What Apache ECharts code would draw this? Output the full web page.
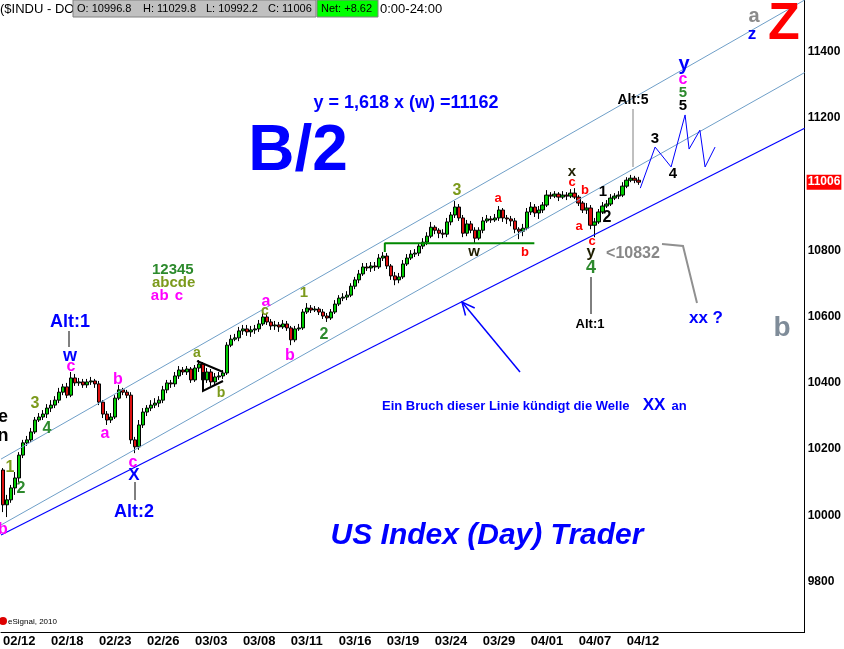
<!DOCTYPE html>
<html>
<head>
<meta charset="utf-8">
<title>$INDU - B/2</title>
<script src="https://cdn.jsdelivr.net/npm/echarts@6/dist/echarts.min.js"></script>
<style>
  html, body { margin: 0; padding: 0; background: #fff; }
  #chart { width: 844px; height: 649px; }
</style>
</head>
<body>
<div id="chart"></div>
<script>
// $INDU, 4 bars per trading day, 02/12 .. 04/12 (2010)
const opens = [
  10137,10032,10047,10083,10113,10182,10219,10228,10252,10288,
  10297,10306,10324,10333,10348,10372,10388,10363,10415,10400,
  10403,10394,10403,10406,10397,10342,10306,10288,10297,10354,
  10379,10372,10363,10228,10207,10273,10312,10324,10333,10339,
  10348,10379,10400,10397,10421,10439,10433,10442,10409,10445,
  10457,10409,10433,10403,10418,10421,10430,10514,10532,10536,
  10557,10563,10554,10560,10563,10578,10599,10584,10572,10575,
  10569,10578,10566,10530,10563,10566,10614,10626,10620,10623,
  10614,10602,10596,10614,10638,10656,10659,10665,10692,10711,
  10729,10750,10747,10753,10750,10777,10783,10753,10723,10711,
  10720,10759,10777,10789,10792,10813,10825,10843,10870,10861,
  10852,10849,10886,10907,10931,10898,10852,10880,10861,10837,
  10861,10889,10895,10892,10898,10922,10898,10895,10889,10864,
  10858,10867,10916,10931,10913,10922,10937,10967,10964,10970,
  10961,10967,10964,10973,10961,10943,10922,10928,10876,10886,
  10916,10934,10940,10958,10964,10967,10994,11012,11018,11012
];
const closes = [
  10032,10047,10083,10113,10182,10219,10228,10252,10288,10297,
  10306,10324,10333,10348,10372,10388,10363,10415,10400,10403,
  10394,10403,10406,10397,10342,10306,10288,10297,10354,10379,
  10372,10363,10228,10207,10273,10312,10324,10333,10339,10348,
  10379,10400,10397,10421,10439,10433,10442,10409,10445,10457,
  10409,10433,10403,10418,10421,10430,10514,10532,10536,10557,
  10563,10554,10560,10563,10578,10599,10584,10572,10575,10569,
  10578,10566,10530,10563,10566,10614,10626,10620,10623,10614,
  10602,10596,10614,10638,10656,10659,10665,10692,10711,10729,
  10750,10747,10753,10750,10777,10783,10753,10723,10711,10720,
  10759,10777,10789,10792,10813,10825,10843,10870,10861,10852,
  10849,10886,10907,10931,10898,10852,10880,10861,10837,10861,
  10889,10895,10892,10898,10922,10898,10895,10889,10864,10858,
  10867,10916,10931,10913,10922,10937,10967,10964,10970,10961,
  10967,10964,10973,10961,10943,10922,10928,10876,10886,10916,
  10934,10940,10958,10964,10967,10994,11012,11018,11012,11006
];
const lows = [
  10010,9995,10038,10062,10101,10173,10210,10222,10246,10282,
  10288,10294,10312,10324,10339,10363,10354,10357,10391,10391,
  10385,10385,10394,10385,10333,10294,10273,10279,10291,10348,
  10363,10354,10216,10188,10198,10264,10300,10315,10324,10327,
  10339,10369,10385,10388,10412,10424,10424,10400,10403,10433,
  10397,10400,10391,10394,10409,10412,10424,10508,10526,10526,
  10545,10542,10539,10548,10554,10572,10575,10560,10560,10554,
  10563,10557,10514,10523,10557,10560,10608,10611,10614,10605,
  10593,10584,10590,10608,10632,10647,10650,10659,10683,10701,
  10723,10738,10735,10738,10744,10768,10744,10711,10695,10701,
  10714,10753,10771,10780,10783,10804,10816,10837,10849,10837,
  10837,10840,10876,10898,10889,10840,10843,10852,10822,10831,
  10852,10883,10883,10886,10889,10886,10880,10873,10852,10834,
  10843,10861,10907,10901,10895,10913,10931,10955,10958,10949,
  10955,10952,10958,10955,10934,10913,10910,10864,10840,10880,
  10910,10928,10934,10952,10955,10961,10988,11006,11003,10998
];
const highs = [
  10143,10062,10092,10131,10191,10228,10240,10264,10297,10309,
  10318,10336,10348,10360,10385,10397,10400,10433,10427,10415,
  10412,10412,10418,10412,10406,10348,10315,10309,10363,10394,
  10385,10379,10372,10237,10288,10324,10333,10348,10354,10360,
  10391,10409,10409,10433,10451,10448,10451,10448,10454,10469,
  10463,10445,10442,10430,10433,10439,10523,10545,10548,10569,
  10575,10575,10572,10575,10590,10611,10611,10593,10587,10584,
  10590,10587,10572,10572,10578,10623,10641,10635,10632,10629,
  10623,10611,10623,10650,10665,10671,10677,10701,10720,10741,
  10762,10762,10765,10765,10789,10795,10792,10759,10735,10732,
  10771,10789,10801,10804,10822,10837,10855,10886,10876,10867,
  10864,10898,10916,10949,10940,10907,10892,10889,10870,10870,
  10901,10907,10904,10910,10934,10928,10907,10904,10898,10870,
  10880,10928,10946,10940,10934,10946,10982,10976,10979,10976,
  10979,10976,10985,10988,10967,10949,10943,10937,10898,10925,
  10946,10952,10970,10973,10979,11006,11021,11028,11025,11022
];

// one date label every 3 trading days (12 bars)
const tickLabels = ['02/12','02/18','02/23','02/26','03/03','03/08','03/11',
                    '03/16','03/19','03/24','03/29','04/01','04/07','04/12'];
const barsPerTick = 12;
const slotCount = 201;   // bars + empty room on the right for the projection
const priceTicks = [9800, 10000, 10200, 10400, 10600, 10800, 11000, 11200, 11400];
const lastPrice = 11006;

// trend channel, [bar index, price]
const channelTop = [[-0.5, 10170], [200.5, 11556]];
const channelMid = [[-0.5, 9971], [200.5, 11337]];
const channelLow = [[-0.5, 9941], [200.5, 11169]];
const supportLine = [[95.5, 10795], [95.5, 10822], [132.9, 10822]];

// projected path drawn by hand
const projX = [159.4, 163.1, 167.1, 170.6, 171.6, 174.3, 175.6, 178.1];
const projY = [10988, 11112, 11052, 11209, 11106, 11163, 11052, 11112];

const FONT = 'Liberation Sans, Arial, sans-serif';

const chart = echarts.init(document.getElementById('chart'));

function txt(x, y, text, color, size, extra) {
  return {
    type: 'text', x: x, y: y, z: 100,
    style: Object.assign({
      text: text, fill: color, align: 'center', verticalAlign: 'middle',
      font: 'bold ' + size + 'px ' + FONT
    }, extra || {})
  };
}
function seg(points, color, width) {
  return {
    type: 'polyline', z: 100,
    shape: { points: points },
    style: { stroke: color, lineWidth: width || 1, fill: null }
  };
}

const BLUE = '#0000ff', MAG = '#ff00ff', OLIVE = '#7c9a1c', GREEN = '#2d8a2d',
      RED = '#ff0000', DARK = '#1e1e00', BLACK = '#000';

const annotations = [
  // header strip
  txt(0, 9, '($INDU - DO', BLACK, 13, { align: 'left', font: '13px ' + FONT }),
  { type: 'rect', z: 100, shape: { x: 73, y: 0, width: 243, height: 17 },
    style: { fill: '#c0c0c0', stroke: '#808080', lineWidth: 1 } },
  { type: 'rect', z: 100, shape: { x: 317, y: 0, width: 61, height: 17 },
    style: { fill: '#00ff00', stroke: '#808080', lineWidth: 1 } },
  txt(77, 9, 'O: 10996.8', BLACK, 11, { align: 'left', font: '11px ' + FONT }),
  txt(143, 9, 'H: 11029.8', BLACK, 11, { align: 'left', font: '11px ' + FONT }),
  txt(206, 9, 'L: 10992.2', BLACK, 11, { align: 'left', font: '11px ' + FONT }),
  txt(268, 9, 'C: 11006', BLACK, 11, { align: 'left', font: '11px ' + FONT }),
  txt(321, 9, 'Net: +8.62', BLACK, 11, { align: 'left', font: '11px ' + FONT }),
  txt(380, 9, '0:00-24:00', BLACK, 13, { align: 'left', font: '13px ' + FONT }),

  // big texts
  txt(298, 152, 'B/2', BLUE, 64),
  txt(406, 103, 'y = 1,618 x (w) =11162', BLUE, 18),
  txt(487, 536, 'US Index (Day) Trader', BLUE, 30, { font: 'italic bold 30px ' + FONT }),
  txt(382, 406, 'Ein Bruch dieser Linie kündigt die Welle', BLUE, 13, { align: 'left' }),
  txt(654, 405, 'XX', BLUE, 17),
  txt(679, 406, 'an', BLUE, 13),
  seg([[520, 372], [462, 302]], BLUE, 1.5),
  seg([[465.5, 315.5], [462, 302], [474.7, 308]], BLUE, 1.5),

  // left part
  txt(3, 417, 'e', BLACK, 18), txt(3, 436, 'n', BLACK, 18),
  txt(3, 530, 'b', MAG, 16),
  txt(10, 468, '1', OLIVE, 16), txt(21, 489, '2', GREEN, 16),
  txt(35, 404, '3', OLIVE, 16), txt(47, 429, '4', GREEN, 16),
  txt(70, 322, 'Alt:1', BLUE, 18), seg([[69, 331], [69, 347]], BLACK, 1),
  txt(70, 356, 'w', BLUE, 18), txt(71, 367, 'c', MAG, 16),
  txt(118, 380, 'b', MAG, 16), txt(105, 434, 'a', MAG, 16),
  txt(133, 463, 'c', MAG, 16), txt(134, 475, 'X', BLUE, 17),
  seg([[135, 482], [135, 500]], BLACK, 1), txt(134, 512, 'Alt:2', BLUE, 18),

  // wave legend
  txt(152, 270, '12345', GREEN, 15, { align: 'left' }),
  txt(152, 283, 'abcde', OLIVE, 15, { align: 'left' }),
  txt(155, 296, 'a', MAG, 15), txt(164, 296, 'b', MAG, 15), txt(179, 296, 'c', MAG, 15),

  // triangle
  txt(197, 353, 'a', OLIVE, 14), txt(221, 393, 'b', OLIVE, 14),
  seg([[197, 361], [223, 372]], BLACK, 2),
  seg([[203, 372], [203, 391], [223, 381]], BLACK, 2),

  txt(266, 302, 'a', MAG, 16), txt(265, 311, 'c', OLIVE, 14),
  txt(290, 356, 'b', MAG, 16),
  txt(304, 293, '1', OLIVE, 15), txt(324, 335, '2', GREEN, 16),
  txt(457, 191, '3', OLIVE, 16),
  txt(474, 252, 'w', DARK, 15),
  txt(498, 198, 'a', RED, 13), txt(525, 252, 'b', RED, 13),

  // recent swing
  txt(572, 172, 'x', DARK, 15), txt(572, 182, 'c', RED, 13),
  txt(585, 190, 'b', RED, 13), txt(579, 226, 'a', RED, 13),
  txt(603, 192, '1', BLACK, 15), txt(607, 218, '2', BLACK, 16),
  txt(592, 241, 'c', RED, 13), txt(591, 253, 'y', DARK, 16),
  txt(591, 268, '4', GREEN, 18),
  seg([[591, 277], [591, 314]], BLACK, 1),
  txt(590, 324, 'Alt:1', BLACK, 13),
  txt(633, 254, '<10832', '#888888', 16),
  seg([[662, 244], [683, 246], [697, 303]], '#909090', 2),
  txt(706, 318, 'xx ?', BLUE, 17),

  // projection labels
  txt(633, 100, 'Alt:5', BLACK, 14),
  seg([[633, 109], [633, 167]], '#808080', 1),
  txt(655, 139, '3', BLACK, 15), txt(673, 174, '4', BLACK, 15),
  txt(683, 106, '5', BLACK, 15), txt(683, 93, '5', GREEN, 15),
  txt(683, 80, 'c', MAG, 16), txt(684, 64, 'y', BLUE, 20),

  // top right
  txt(754, 16, 'a', '#8a8a8a', 20), txt(752, 34, 'z', BLUE, 17),
  txt(784, 25, 'Z', RED, 52),
  txt(782, 328, 'b', '#7f8c99', 28),

  // footer
  { type: 'circle', z: 100, shape: { cx: 3, cy: 621, r: 4 }, style: { fill: '#dd0000' } },
  txt(8, 622, 'eSignal, 2010', BLACK, 8, { align: 'left', font: '8px ' + FONT })
];

chart.setOption({
  animation: false,
  backgroundColor: '#fff',
  grid: { left: 0, top: 0, width: 806, height: 632, containLabel: false },
  xAxis: [{
    type: 'category',
    data: Array.from({ length: slotCount }, (_, i) => String(i)),
    boundaryGap: true,
    axisLine: { show: true, onZero: false, lineStyle: { color: '#000', width: 1 } },
    axisTick: { show: false },
    splitLine: { show: false },
    axisLabel: {
      interval: (idx) => idx % barsPerTick === 0 && idx / barsPerTick < tickLabels.length,
      formatter: (val, idx) => tickLabels[idx / barsPerTick],
      align: 'left',
      margin: 3,
      color: '#000',
      fontSize: 13,
      fontWeight: 'bold',
      fontFamily: FONT
    }
  }, {
    type: 'value', min: -0.5, max: slotCount - 0.5, show: false
  }],
  yAxis: {
    type: 'value',
    position: 'right',
    min: 9648,
    max: 11556,
    axisLine: { show: true, onZero: false, lineStyle: { color: '#000', width: 1 } },
    axisTick: { show: false },
    splitLine: { show: false },
    axisLabel: {
      customValues: priceTicks,
      formatter: (v) => String(v),
      margin: 3,
      color: '#000',
      fontWeight: 'bold',
      fontSize: 12,
      fontFamily: FONT
    }
  },
  series: [
    { type: 'line', xAxisIndex: 1, data: channelTop, symbol: 'none',
      lineStyle: { color: '#6f9fc8', width: 1 }, silent: true },
    { type: 'line', xAxisIndex: 1, data: channelMid, symbol: 'none',
      lineStyle: { color: '#6f9fc8', width: 1 }, silent: true },
    { type: 'line', xAxisIndex: 1, data: channelLow, symbol: 'none',
      lineStyle: { color: '#0000ff', width: 1.2 }, silent: true },
    { type: 'line', xAxisIndex: 1, data: supportLine, symbol: 'none',
      lineStyle: { color: '#008800', width: 2 }, silent: true },
    {
      type: 'candlestick',
      barWidth: 4,
      data: opens.map((o, i) => [o, closes[i], lows[i], highs[i]]),
      itemStyle: {
        color: '#00cc00', color0: '#dd1010',
        borderColor: '#000', borderColor0: '#000', borderWidth: 1
      },
      markLine: {
        silent: true, symbol: 'none',
        lineStyle: { color: 'rgba(0,0,0,0)', width: 0 },
        data: [{ yAxis: lastPrice }],
        label: {
          show: true, position: 'end', distance: 2,
          formatter: String(lastPrice),
          color: '#fff', backgroundColor: '#ff0000',
          fontWeight: 'bold', fontSize: 12, fontFamily: FONT,
          padding: [2, 1, 1, 1]
        }
      }
    },
    { type: 'line', xAxisIndex: 1, data: projX.map((x, i) => [x, projY[i]]),
      symbol: 'none', lineStyle: { color: '#0000ff', width: 1 }, silent: true }
  ],
  graphic: annotations
});
</script>
</body>
</html>
